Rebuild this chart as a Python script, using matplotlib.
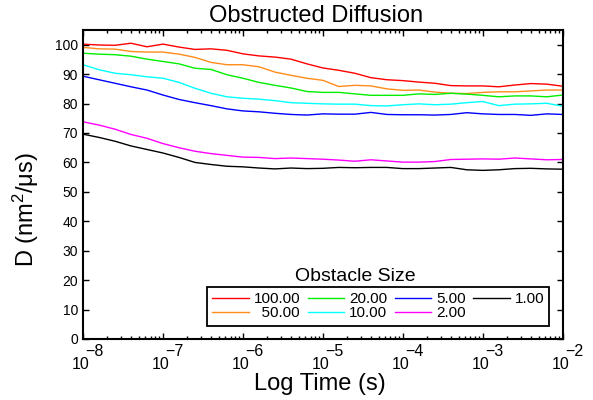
import matplotlib
matplotlib.use('Agg')
import matplotlib.pyplot as plt
import numpy as np
from matplotlib.ticker import LogLocator, NullFormatter

plt.rcParams['font.family'] = ['Liberation Sans', 'DejaVu Sans']
plt.rcParams['mathtext.fontset'] = 'custom'
plt.rcParams['mathtext.rm'] = 'Liberation Sans'
plt.rcParams['mathtext.it'] = 'Liberation Sans:italic'
plt.rcParams['mathtext.default'] = 'regular'

# log10 of time (s), one sample every 0.2 decade
log_t = [-8.0, -7.8, -7.6, -7.4, -7.2, -7.0, -6.8, -6.6, -6.4, -6.2,
         -6.0, -5.8, -5.6, -5.4, -5.2, -5.0, -4.8, -4.6, -4.4, -4.2,
         -4.0, -3.8, -3.6, -3.4, -3.2, -3.0, -2.8, -2.6, -2.4, -2.2, -2.0]

d_100 = [100.2, 99.9, 99.8, 100.5, 99.3, 100.2, 99.2, 98.4, 98.6, 98.1,
         96.9, 96.2, 95.8, 95.1, 93.5, 92.1, 91.3, 90.3, 88.8, 88.1,
         87.8, 87.3, 86.9, 86.1, 86.0, 86.0, 85.7, 86.3, 86.8, 86.6, 85.9]
d_50 = [99.1, 98.6, 98.5, 97.7, 97.5, 97.5, 96.8, 95.7, 94.0, 93.2,
        93.2, 92.5, 90.7, 89.6, 88.6, 87.9, 85.8, 86.2, 86.0, 85.0,
        84.5, 84.6, 83.9, 83.5, 83.4, 83.8, 84.0, 84.0, 84.3, 84.6, 84.6]
d_20 = [97.1, 96.8, 96.6, 96.1, 95.1, 94.3, 93.5, 92.0, 91.6, 89.8,
        88.6, 87.2, 86.2, 85.3, 84.1, 83.8, 83.8, 83.3, 82.8, 82.8,
        82.8, 83.3, 83.1, 83.5, 83.2, 82.8, 82.3, 82.6, 82.6, 82.3, 82.9]
d_10 = [93.2, 91.5, 90.3, 89.8, 89.1, 88.6, 87.2, 85.2, 83.5, 82.3,
        81.8, 81.5, 81.0, 80.3, 80.1, 79.9, 79.8, 79.8, 79.3, 79.2,
        79.6, 79.9, 79.6, 79.8, 80.3, 80.7, 79.3, 79.8, 79.9, 80.1, 79.1]
d_5 = [89.3, 88.1, 86.9, 85.7, 84.6, 82.9, 81.4, 80.3, 79.3, 78.2,
       77.5, 77.2, 76.7, 76.3, 76.1, 76.5, 76.4, 76.4, 77.0, 76.3,
       76.2, 76.2, 76.1, 76.3, 76.9, 76.5, 76.3, 76.3, 76.0, 76.5, 76.3]
d_2 = [73.8, 72.7, 71.3, 69.5, 68.2, 66.4, 65.0, 63.8, 63.0, 62.4,
       61.8, 61.7, 61.3, 61.5, 61.3, 61.1, 60.8, 60.4, 60.9, 60.5,
       60.1, 60.1, 60.3, 61.0, 61.1, 61.2, 61.1, 61.5, 61.2, 60.9, 61.0]
d_1 = [69.6, 68.5, 67.2, 65.6, 64.4, 63.2, 61.7, 60.0, 59.3, 58.7,
       58.5, 58.1, 57.8, 58.1, 57.9, 58.0, 58.3, 58.2, 58.3, 58.3,
       57.9, 57.9, 58.1, 58.3, 57.5, 57.3, 57.5, 57.9, 58.0, 57.8, 57.7]

series = [d_100, d_50, d_20, d_10, d_5, d_2, d_1]
labels = ['100.00', '  50.00', '20.00', '10.00', '5.00', '2.00', '1.00']
colours = ['#FF0000', '#FF8C1A', '#00EE00', '#00FFFF', '#0000FF', '#FF00FF', '#000000']
decades = [-8, -7, -6, -5, -4, -3, -2]

fig = plt.figure(figsize=(5.93, 4.0), dpi=100)
ax = fig.add_axes([0.14, 0.1525, 0.809, 0.7725])

t = 10.0 ** np.array(log_t)
for d, c, la in zip(series, colours, labels):
    ax.plot(t, d, color=c, lw=1.0, label=la)

ax.set_xscale('log')
ax.set_xlim(1e-8, 1e-2)
ax.set_ylim(0, 105)
ax.set_yticks(range(0, 101, 10))
ax.xaxis.set_major_locator(LogLocator(base=10, numticks=10))
ax.xaxis.set_minor_locator(LogLocator(base=10, subs=np.arange(2, 10), numticks=10))
ax.xaxis.set_minor_formatter(NullFormatter())

ax.tick_params(which='both', direction='in', top=True, right=True, labelsize=10, width=1.0)
ax.tick_params(which='major', length=4)
ax.tick_params(which='minor', length=2.5)
ax.tick_params(axis='x', labelbottom=False)
for s in ax.spines.values():
    s.set_linewidth(1.5)

# matlab style 10^n tick labels, exponent set well above the base
for e in decades:
    ax.annotate('10', xy=(10.0 ** e, 0), xycoords=('data', 'axes fraction'),
                xytext=(-1.5, -21.5), textcoords='offset points',
                ha='center', va='baseline', fontsize=11.5)
    ax.annotate('\u2212%d' % abs(e), xy=(10.0 ** e, 0), xycoords=('data', 'axes fraction'),
                xytext=(1.5, -12.3), textcoords='offset points',
                ha='left', va='baseline', fontsize=11.5)

ax.set_title('Obstructed Diffusion', fontsize=17, x=0.486, pad=6)
ax.text(0.494, -0.165, 'Log Time (s)', transform=ax.transAxes, ha='center',
        va='baseline', fontsize=17)
ax.set_ylabel('D (nm$^2$/μs)', fontsize=17)
ax.yaxis.set_label_coords(-0.088, 0.42)

leg = ax.legend(ncol=4, loc='upper left', bbox_to_anchor=(0.258, 0.168),
                fontsize=11, handlelength=2.4, handletextpad=0.3,
                columnspacing=0.5, labelspacing=0.0, borderpad=0.35, fancybox=False,
                framealpha=1, edgecolor='black', borderaxespad=0)
leg.get_frame().set_linewidth(1.3)
ax.text(0.567, 0.189, 'Obstacle Size', transform=ax.transAxes, ha='center',
        va='baseline', fontsize=14)

fig.savefig('out.png', dpi=100)
